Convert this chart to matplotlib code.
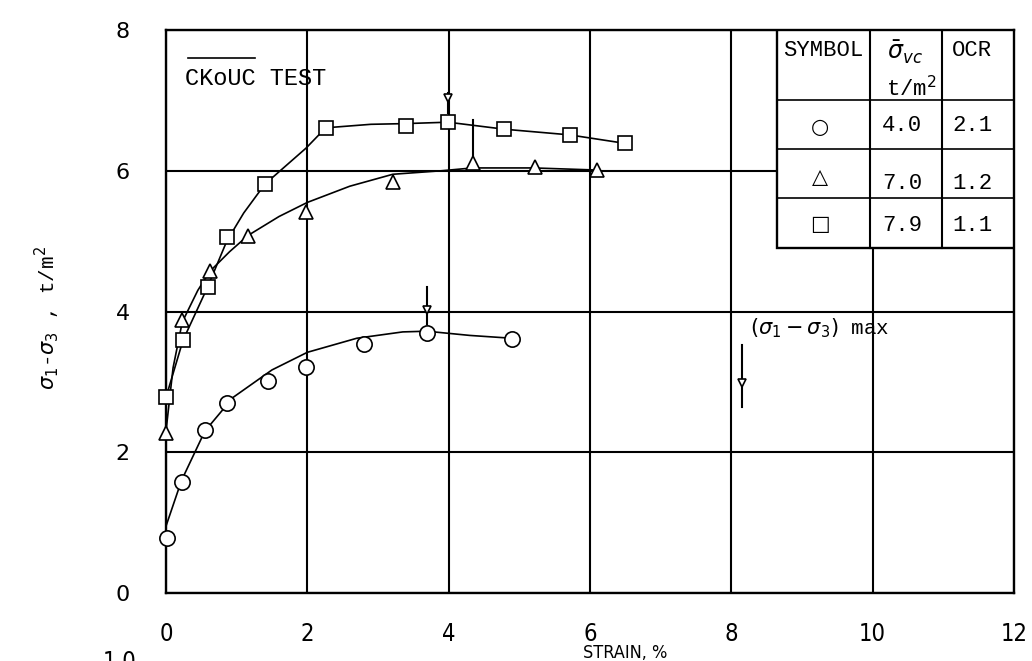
import matplotlib
matplotlib.use('Agg')
import matplotlib.pyplot as plt
from matplotlib.patches import Rectangle
import numpy as np

# measured points, strain (%) vs deviator stress (t/m^2)
circ_x = [0.01, 0.22, 0.55, 0.86, 1.44, 1.98, 2.80, 3.69, 4.89]
circ_y = [0.78, 1.58, 2.32, 2.70, 3.01, 3.21, 3.54, 3.69, 3.61]
tri_x = [0.0, 0.23, 0.62, 1.16, 1.98, 3.21, 4.34, 5.22, 6.10]
tri_y = [2.27, 3.88, 4.57, 5.07, 5.41, 5.84, 6.11, 6.05, 6.01]
sq_x = [0.0, 0.24, 0.59, 0.86, 1.40, 2.26, 3.39, 3.99, 4.79, 5.71, 6.49]
sq_y = [2.78, 3.59, 4.35, 5.06, 5.81, 6.61, 6.63, 6.69, 6.59, 6.51, 6.39]

# hand drawn curves through the points
circ_cx = [0.0, 0.22, 0.55, 0.95, 1.5, 2.0, 2.7, 3.35, 3.69, 4.3, 4.89]
circ_cy = [0.95, 1.6, 2.3, 2.78, 3.17, 3.42, 3.62, 3.71, 3.72, 3.66, 3.62]
tri_cx = [0.0, 0.1, 0.23, 0.45, 0.62, 0.9, 1.16, 1.6, 2.0, 2.6, 3.21, 3.9, 4.34, 5.2, 6.1]
tri_cy = [2.3, 3.2, 3.85, 4.3, 4.57, 4.85, 5.08, 5.35, 5.55, 5.78, 5.95, 6.0, 6.04, 6.04, 6.01]
sq_cx = [0.0, 0.24, 0.59, 0.86, 1.1, 1.40, 1.98, 2.26, 2.9, 3.39, 3.99, 4.79, 5.71, 6.49]
sq_cy = [2.78, 3.59, 4.35, 5.0, 5.4, 5.81, 6.32, 6.61, 6.66, 6.67, 6.69, 6.59, 6.51, 6.39]

# (s1-s3) max arrows
arr_x = [3.99, 4.34, 3.69, 8.15]
arr_top = [7.10, 6.72, 4.35, 3.52]
arr_bot = [6.82, 6.18, 3.82, 2.64]
arr_head = [7.03, None, 4.02, 2.98]

# table
tab_cols = [8.64, 9.96, 10.98, 12.0]
tab_rows = [8.0, 7.0, 6.31, 5.61, 4.9]
symbols = ['○', '△', '□']
sigma_vc = ['4.0', '7.0', '7.9']
ocr = ['2.1', '1.2', '1.1']

xticks = [0, 2, 4, 6, 8, 10, 12]
yticks = [0, 2, 4, 6, 8]

mono = 'Liberation Mono'

fig = plt.figure(figsize=(10.32, 6.61), dpi=100)
ax = fig.add_axes([166/1032, 1-593/661, 848/1032, 563/661])
ax.set_xlim(0, 12)
ax.set_ylim(0, 8)
ax.set_xticks(xticks)
ax.set_yticks(yticks)
ax.tick_params(length=0)
ax.tick_params(axis='x', pad=21, labelsize=17)
ax.tick_params(axis='y', pad=26, labelsize=16)
for lab in ax.get_xticklabels():
    lab.set_fontstretch('condensed')
ax.grid(True, color='black', linewidth=1.5)
ax.set_axisbelow(True)
for s in ax.spines.values():
    s.set_linewidth(1.7)

mk = dict(mfc='white', mec='black', mew=1.2, ls='none', clip_on=False, zorder=5)
ax.plot(circ_cx, circ_cy, color='black', lw=1.2, zorder=3)
ax.plot(tri_cx, tri_cy, color='black', lw=1.2, zorder=3)
ax.plot(sq_cx, sq_cy, color='black', lw=1.2, zorder=3)
ax.plot(circ_x, circ_y, marker='o', ms=11, **mk)
ax.plot(tri_x, tri_y, marker='^', ms=9.5, **mk)
ax.plot(sq_x, sq_y, marker='s', ms=9.5, **mk)

for x, t, b, h in zip(arr_x, arr_top, arr_bot, arr_head):
    ax.plot([x, x], [t, b], color='black', lw=1.5, zorder=4)
    if h is not None:
        ax.plot(x, h, marker='v', ms=6, mfc='white', mec='black', mew=1.2, zorder=4)

ax.text(0.27, 7.31, 'CKoUC TEST', family=mono, fontsize=17, va='center')
ax.axhline(7.6, xmin=0.026, xmax=0.105, color='black', lw=1.2)
ax.text(8.26, 3.76, r'$(\sigma_1 - \sigma_3)$ max', family=mono, fontsize=15,
        va='center')

# table in upper right
ax.add_patch(Rectangle((tab_cols[0], tab_rows[-1]), tab_cols[-1]-tab_cols[0],
                       tab_rows[0]-tab_rows[-1], facecolor='white',
                       edgecolor='black', lw=1.7, zorder=6))
for c in tab_cols[1:-1]:
    ax.plot([c, c], [tab_rows[-1], tab_rows[0]], color='black', lw=1.5, zorder=7)
for r in tab_rows[1:-1]:
    ax.plot([tab_cols[0], tab_cols[-1]], [r, r], color='black', lw=1.2, zorder=7)

ax.text(9.3, 7.71, 'SYMBOL', family=mono, fontsize=16, ha='center', va='center', zorder=8)
ax.text(10.45, 7.68, r'$\bar{\sigma}_{vc}$', fontsize=17, ha='center', va='center', zorder=8)
ax.text(10.54, 7.17, r't/m$^2$', family=mono, fontsize=16, ha='center', va='center', zorder=8)
ax.text(11.41, 7.71, 'OCR', family=mono, fontsize=16, ha='center', va='center', zorder=8)
sym_y = [6.62, 5.91, 5.24]
val_y = [6.64, 5.82, 5.22]
for s, v, o, sy, vy in zip(symbols, sigma_vc, ocr, sym_y, val_y):
    ax.text(9.25, sy, s, fontsize=15, ha='center', va='center', zorder=8)
    ax.text(10.42, vy, v, family=mono, fontsize=16, ha='center', va='center', zorder=8)
    ax.text(11.41, vy, o, family=mono, fontsize=16, ha='center', va='center', zorder=8)

fig.text(625/1032, 1-653/661, 'STRAIN, %', fontsize=13, fontstretch='condensed',
         ha='center', va='center')
fig.text(47/1032, 1-318/661, r'$\sigma_1$-$\sigma_3$ , t/m$^2$', family=mono,
         fontsize=15, rotation=90, ha='center', va='center')
fig.text(120/1032, 1-650/661, '1.0', fontsize=17, fontstretch='condensed',
         ha='center', va='top')

fig.savefig('out.png', dpi=100)
